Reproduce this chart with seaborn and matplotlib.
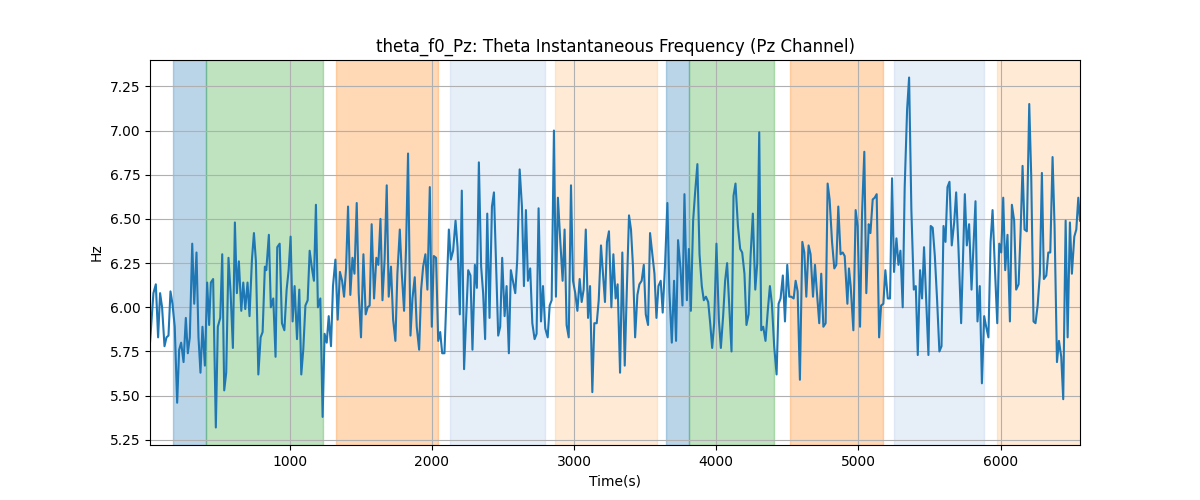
import matplotlib
matplotlib.use("Agg")
import matplotlib.pyplot as plt
import pandas as pd
import seaborn as sns

# time (s) and theta instantaneous frequency (Hz)
TIME = [
    18, 42, 59, 75, 89, 103, 120, 134, 148, 162, 176, 192, 209, 223, 237, 254, 270, 284, 298, 315,
    329, 345, 359, 373, 387, 404, 420, 434, 446, 462, 481, 495, 512, 526, 540, 554, 570, 585, 601, 615,
    629, 643, 660, 674, 688, 704, 718, 735, 749, 763, 780, 796, 810, 826, 836, 854, 868, 885, 901, 913,
    930, 946, 963, 979, 993, 1007, 1021, 1035, 1052, 1068, 1082, 1096, 1111, 1127, 1141, 1157, 1171, 1185, 1199, 1216,
    1232, 1246, 1261, 1275, 1291, 1305, 1322, 1338, 1354, 1369, 1383, 1397, 1411, 1427, 1442, 1456, 1472, 1486, 1502, 1519,
    1535, 1549, 1563, 1577, 1594, 1610, 1624, 1639, 1653, 1668, 1683, 1697, 1713, 1728, 1744, 1758, 1775, 1789, 1805, 1819,
    1833, 1850, 1864, 1880, 1894, 1911, 1925, 1939, 1955, 1969, 1986, 2000, 2014, 2030, 2045, 2059, 2073, 2089, 2104, 2120,
    2134, 2150, 2167, 2181, 2197, 2211, 2227, 2241, 2256, 2272, 2286, 2303, 2317, 2331, 2347, 2361, 2375, 2390, 2406, 2423,
    2437, 2467, 2481, 2495, 2512, 2526, 2542, 2556, 2573, 2587, 2601, 2618, 2634, 2648, 2662, 2676, 2692, 2707, 2723, 2737,
    2751, 2768, 2782, 2798, 2815, 2829, 2843, 2859, 2873, 2887, 2904, 2920, 2934, 2948, 2963, 2979, 2993, 3009, 3024, 3040,
    3054, 3068, 3083, 3099, 3113, 3129, 3143, 3160, 3174, 3190, 3204, 3218, 3232, 3246, 3263, 3277, 3293, 3307, 3324, 3340,
    3357, 3371, 3387, 3401, 3415, 3430, 3446, 3460, 3476, 3491, 3505, 3521, 3535, 3551, 3566, 3580, 3594, 3610, 3624, 3641,
    3657, 3671, 3688, 3704, 3718, 3732, 3749, 3763, 3777, 3794, 3808, 3822, 3838, 3852, 3868, 3883, 3899, 3913, 3928, 3944,
    3958, 3972, 3986, 4002, 4019, 4033, 4049, 4063, 4077, 4108, 4122, 4136, 4153, 4169, 4183, 4199, 4213, 4228, 4242, 4258,
    4275, 4289, 4303, 4317, 4331, 4347, 4364, 4378, 4392, 4408, 4425, 4439, 4453, 4469, 4484, 4500, 4514, 4528, 4545, 4559,
    4573, 4589, 4606, 4620, 4634, 4650, 4664, 4681, 4695, 4709, 4725, 4739, 4754, 4770, 4784, 4798, 4815, 4831, 4845, 4859,
    4875, 4890, 4904, 4923, 4934, 4946, 4965, 4981, 4995, 5012, 5026, 5042, 5056, 5073, 5085, 5101, 5115, 5129, 5146, 5160,
    5176, 5190, 5207, 5223, 5237, 5251, 5268, 5282, 5296, 5312, 5326, 5343, 5357, 5373, 5390, 5404, 5418, 5434, 5448, 5462,
    5479, 5493, 5509, 5523, 5538, 5554, 5570, 5585, 5599, 5613, 5627, 5641, 5657, 5674, 5688, 5704, 5723, 5749, 5763, 5779,
    5796, 5824, 5838, 5854, 5869, 5885, 5899, 5915, 5930, 5944, 5960, 5977, 5991, 6005, 6019, 6033, 6049, 6066, 6080, 6096,
    6110, 6127, 6141, 6155, 6169, 6185, 6202, 6216, 6232, 6246, 6261, 6277, 6291, 6305, 6322, 6336, 6350, 6366, 6380, 6397,
    6411, 6427, 6441, 6458, 6472, 6488, 6502, 6519, 6533, 6547, 6559,
]
HZ = [
    5.80, 6.08, 6.13, 5.83, 6.08, 6.00, 5.78, 5.83, 5.84, 6.09, 6.02, 5.89, 5.46, 5.76, 5.80, 5.69, 5.94, 5.74, 5.83, 6.36,
    6.02, 6.31, 5.83, 5.63, 5.89, 5.67, 6.14, 5.90, 6.14, 6.16, 5.32, 5.89, 5.94, 6.30, 5.53, 5.63, 6.28, 6.08, 5.77, 6.48,
    6.08, 6.26, 5.98, 6.14, 5.99, 6.14, 5.95, 6.27, 6.42, 6.26, 5.62, 5.83, 5.86, 6.23, 6.21, 6.41, 6.00, 6.05, 5.72, 6.34,
    6.36, 5.91, 5.87, 6.10, 6.21, 6.40, 5.92, 6.12, 5.82, 6.10, 5.62, 5.76, 6.01, 6.04, 6.32, 6.22, 6.15, 6.58, 6.00, 6.05,
    5.38, 5.85, 5.80, 5.95, 5.78, 6.12, 6.27, 5.93, 6.20, 6.15, 6.06, 6.22, 6.57, 6.07, 6.28, 6.19, 6.59, 6.08, 5.83, 6.30,
    5.96, 6.00, 6.01, 6.47, 6.05, 6.28, 6.24, 6.50, 6.04, 6.27, 6.69, 6.06, 6.23, 5.93, 5.81, 6.19, 6.44, 6.19, 5.98, 6.34,
    6.87, 5.84, 6.05, 6.17, 5.89, 5.76, 6.10, 6.23, 6.30, 6.10, 6.68, 5.89, 6.29, 6.28, 5.81, 5.86, 5.74, 5.74, 6.08, 6.44,
    6.27, 6.32, 6.49, 6.34, 5.96, 6.66, 5.65, 5.93, 6.21, 6.18, 5.76, 6.24, 6.11, 6.82, 6.23, 6.08, 5.82, 6.53, 5.94, 6.57,
    6.65, 5.84, 5.89, 6.28, 5.95, 6.12, 5.74, 6.21, 6.14, 6.08, 6.27, 6.78, 6.57, 6.12, 6.55, 6.15, 6.22, 5.91, 5.82, 5.85,
    6.56, 5.92, 6.12, 5.88, 5.83, 6.01, 6.04, 7.00, 6.06, 6.62, 6.37, 6.15, 6.44, 5.90, 5.83, 6.69, 6.15, 6.08, 5.98, 6.16,
    6.03, 6.10, 6.44, 5.94, 6.12, 5.52, 5.91, 5.91, 6.04, 6.35, 6.19, 6.03, 6.37, 6.43, 6.00, 6.30, 6.05, 6.13, 5.63, 6.31,
    5.67, 6.08, 6.52, 6.44, 6.23, 5.83, 6.07, 6.13, 6.15, 6.24, 5.96, 5.90, 6.42, 6.30, 6.19, 5.94, 6.12, 6.15, 5.97, 6.25,
    6.59, 6.09, 5.80, 6.15, 5.81, 6.38, 6.22, 6.01, 6.64, 6.04, 6.33, 5.98, 6.49, 6.65, 6.81, 6.30, 6.12, 6.04, 6.06, 6.03,
    5.91, 5.77, 5.91, 6.36, 5.93, 5.77, 5.95, 6.15, 6.25, 5.75, 6.63, 6.70, 6.46, 6.33, 6.31, 6.19, 5.90, 5.96, 6.29, 6.53,
    6.10, 6.25, 6.99, 5.87, 5.89, 5.81, 5.99, 6.12, 6.02, 5.78, 5.62, 6.02, 6.05, 6.18, 5.92, 6.24, 6.06, 6.06, 6.05, 6.15,
    6.09, 5.59, 6.37, 6.31, 6.06, 6.35, 6.30, 6.06, 6.24, 6.08, 5.91, 6.19, 5.89, 5.91, 6.70, 6.61, 6.37, 6.22, 6.24, 6.57,
    6.30, 6.31, 6.29, 6.02, 6.22, 6.12, 5.87, 6.55, 6.46, 5.89, 6.53, 6.88, 6.08, 6.47, 6.42, 6.61, 6.62, 6.64, 5.83, 6.01,
    6.02, 6.21, 6.05, 6.05, 6.73, 6.20, 6.39, 6.24, 6.32, 6.00, 6.68, 7.12, 7.30, 6.55, 6.10, 6.12, 5.73, 6.21, 6.05, 6.34,
    6.01, 5.73, 6.46, 6.45, 6.29, 6.04, 5.75, 5.78, 6.46, 6.37, 6.68, 6.71, 6.35, 6.48, 6.65, 6.34, 5.91, 6.64, 6.35, 6.47,
    6.10, 6.60, 5.92, 6.12, 5.57, 5.95, 5.89, 5.83, 6.37, 6.55, 6.23, 5.91, 6.36, 6.31, 6.62, 6.21, 6.41, 5.92, 6.58, 6.49,
    6.10, 6.13, 6.42, 6.80, 6.44, 6.43, 7.15, 6.74, 5.92, 5.91, 6.01, 6.19, 6.76, 6.16, 6.18, 6.31, 6.31, 6.85, 6.46, 5.69,
    5.81, 5.72, 5.48, 6.49, 5.83, 6.48, 6.19, 6.40, 6.44, 6.62, 6.49,
]

# shaded segments (start, end in seconds) and which phase each one is
SPAN_START = [183, 415, 1324, 2127, 2866, 3648, 3812, 4521, 5254, 5972]
SPAN_END = [415, 1232, 2042, 2796, 3582, 3812, 4406, 5176, 5887, 6600]
SPAN_PHASE = ["a", "b", "c", "d", "e", "a", "b", "c", "d", "e"]

PHASE_COLORS = {
    "a": "#1f77b4",
    "b": "#2ca02c",
    "c": "#ff7f0e",
    "d": "#aec7e8",
    "e": "#ffbb78",
}


def main():
    df = pd.DataFrame({"time": TIME, "hz": HZ})

    fig, ax = plt.subplots(figsize=(12, 5), dpi=100)

    for start, end, phase in zip(SPAN_START, SPAN_END, SPAN_PHASE):
        ax.axvspan(start, end, color=PHASE_COLORS[phase], alpha=0.3)

    sns.lineplot(data=df, x="time", y="hz", estimator=None, color="#1f77b4", ax=ax)

    ax.set_xlim(df["time"].min(), df["time"].max())
    ax.set_title("theta_f0_Pz: Theta Instantaneous Frequency (Pz Channel)")
    ax.set_xlabel("Time(s)")
    ax.set_ylabel("Hz")
    ax.grid(True)

    fig.savefig("out.png", dpi=100)
    plt.close(fig)


if __name__ == "__main__":
    main()
